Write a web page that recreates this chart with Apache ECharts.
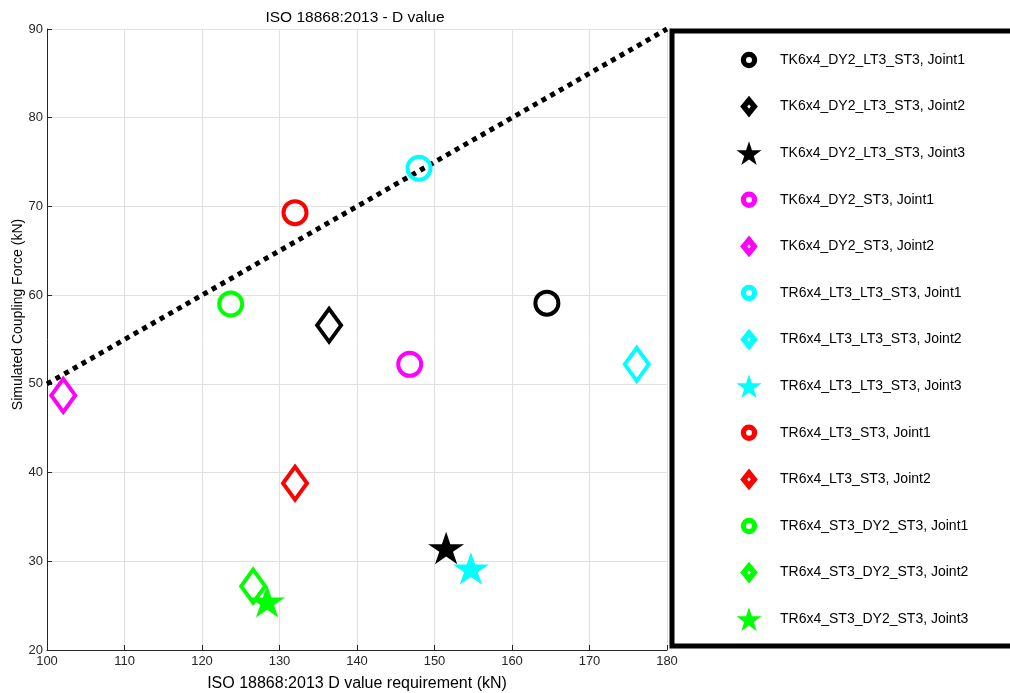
<!DOCTYPE html>
<html lang="en">
<head>
    <meta charset="utf-8"/>
    <title>ISO 18868:2013 - D value</title>
    <script src="https://cdn.jsdelivr.net/npm/echarts@6/dist/echarts.min.js"></script>
    <style>
        html, body { margin: 0; padding: 0; background: #fff; }
        #chart { width: 1010px; height: 693px; }
    </style>
</head>
<body>
<div id="chart"></div>
<script>
    // series names, in legend order
    var names = [
        'TK6x4_DY2_LT3_ST3, Joint1',
        'TK6x4_DY2_LT3_ST3, Joint2',
        'TK6x4_DY2_LT3_ST3, Joint3',
        'TK6x4_DY2_ST3, Joint1',
        'TK6x4_DY2_ST3, Joint2',
        'TR6x4_LT3_LT3_ST3, Joint1',
        'TR6x4_LT3_LT3_ST3, Joint2',
        'TR6x4_LT3_LT3_ST3, Joint3',
        'TR6x4_LT3_ST3, Joint1',
        'TR6x4_LT3_ST3, Joint2',
        'TR6x4_ST3_DY2_ST3, Joint1',
        'TR6x4_ST3_DY2_ST3, Joint2',
        'TR6x4_ST3_DY2_ST3, Joint3'
    ];
    // D value requirement (kN)
    var dValue = [164.5, 136.4, 151.5, 146.8, 102.1, 148.0, 176.1, 154.7, 132.0, 132.0, 123.7, 126.6, 128.4];
    // simulated coupling force (kN)
    var force = [59.1, 56.6, 31.5, 52.2, 48.7, 74.3, 52.2, 29.2, 69.3, 38.8, 59.0, 27.2, 25.5];
    // marker kind per series: o circle, d diamond, s star
    var kinds = ['o', 'd', 's', 'o', 'd', 'o', 'd', 's', 'o', 'd', 'o', 'd', 's'];
    var colors = ['#000000', '#000000', '#000000', '#ff00ff', '#ff00ff', '#00ffff', '#00ffff', '#00ffff',
        '#ff0000', '#ff0000', '#00ff00', '#00ff00', '#00ff00'];
    // ISO 18868 reference line
    var refX = [100, 180];
    var refY = [50, 90];

    // plot markers
    var starPath = 'path://M100,0L122.45,69.1L195.1,69.1L136.3,111.8L158.8,180.9L100,138.2L41.2,180.9L63.7,111.8L4.9,69.1L77.55,69.1Z';
    // legend icons, all drawn in the same 260x260 box so they keep their own sizes
    var box = 'M0,0L0,0ZM260,260L260,260Z';
    var ringIcon = 'path://' + box +
        'M212,130A82,82 0 1,1 48,130A82,82 0 1,1 212,130Z' +
        'M160,130A30,30 0 1,0 100,130A30,30 0 1,0 160,130Z';
    var diamondIcon = 'path://' + box +
        'M130,22L218,130L130,238L42,130Z' +
        'M130,108L112,130L130,152L148,130Z';
    var starIcon = 'path://' + box +
        'M130,11L159.4,101.5L254.6,101.5L177.6,157.5L207,248L130,192L53,248L82.4,157.5L5.4,101.5L100.6,101.5Z';

    var series = [], legendData = [];
    for (var i = 0; i < names.length; i++) {
        var k = kinds[i], c = colors[i];
        var s = {
            name: names[i],
            type: 'scatter',
            data: [[dValue[i], force[i]]],
            z: 3
        };
        var li = {name: names[i], itemStyle: {color: c, borderWidth: 0, opacity: 1}};
        if (k === 'o') {
            s.symbol = 'circle';
            s.symbolSize = 23;
            s.itemStyle = {color: 'rgba(0,0,0,0)', borderColor: c, borderWidth: 4, opacity: 1};
            li.icon = ringIcon;
        } else if (k === 'd') {
            s.symbol = 'diamond';
            s.symbolSize = [24, 33];
            s.itemStyle = {color: 'rgba(0,0,0,0)', borderColor: c, borderWidth: 4, opacity: 1};
            li.icon = diamondIcon;
        } else {
            s.symbol = starPath;
            s.symbolSize = [36, 34];
            s.symbolKeepAspect = true;
            s.itemStyle = {color: c, borderWidth: 0, opacity: 1};
            li.icon = starIcon;
        }
        series.push(s);
        legendData.push(li);
    }

    series.unshift({
        name: 'ISO line',
        type: 'line',
        data: refX.map(function (x, j) { return [x, refY[j]]; }),
        symbol: 'none',
        lineStyle: {color: '#000', width: 5, type: [5, 5]},
        z: 2,
        silent: true
    });

    var myChart = echarts.init(document.getElementById('chart'));
    var option = {
        animation: false,
        backgroundColor: '#fff',
        textStyle: {fontFamily: 'Liberation Sans, Arial, sans-serif'},
        title: {
            text: 'ISO 18868:2013 - D value',
            left: 350,
            textAlign: 'center',
            top: 5,
            textStyle: {fontSize: 15.5, fontWeight: 'normal', color: '#000'}
        },
        grid: {left: 47, right: 343, top: 29, bottom: 43, outerBoundsMode: 'none'},
        xAxis: {
            type: 'value',
            min: 100, max: 180, interval: 10,
            name: 'ISO 18868:2013 D value requirement (kN)',
            nameLocation: 'middle',
            nameGap: 26,
            nameTextStyle: {fontSize: 16, color: '#000'},
            axisLine: {show: true, onZero: false, lineStyle: {color: '#262626', width: 1}},
            axisTick: {show: true, inside: true, length: 5, lineStyle: {color: '#262626'}},
            axisLabel: {fontSize: 13, color: '#262626', margin: 5, showMaxLabel: true},
            splitLine: {show: true, lineStyle: {color: '#e1e1e1', width: 1}}
        },
        yAxis: {
            type: 'value',
            min: 20, max: 90, interval: 10,
            name: 'Simulated Coupling Force (kN)',
            nameLocation: 'middle',
            nameGap: 22,
            nameMoveOverlap: false,
            nameTextStyle: {fontSize: 14, color: '#000', padding: [0, 0, 0, 50]},
            axisLine: {show: true, onZero: false, lineStyle: {color: '#262626', width: 1}},
            axisTick: {show: true, inside: true, length: 5, lineStyle: {color: '#262626'}},
            axisLabel: {fontSize: 13, color: '#262626', margin: 4},
            splitLine: {show: true, lineStyle: {color: '#e1e1e1', width: 1}}
        },
        legend: {
            orient: 'vertical',
            left: 736,
            top: 47,
            itemWidth: 52,
            itemHeight: 26,
            itemGap: 20.6,
            padding: 0,
            data: legendData,
            textStyle: {fontSize: 14, color: '#000'},
            selectedMode: false
        },
        graphic: [{
            type: 'rect',
            shape: {x: 672, y: 31, width: 400, height: 615},
            style: {fill: 'none', stroke: '#000', lineWidth: 5},
            z: 10
        }],
        series: series
    };
    myChart.setOption(option);
</script>
</body>
</html>
